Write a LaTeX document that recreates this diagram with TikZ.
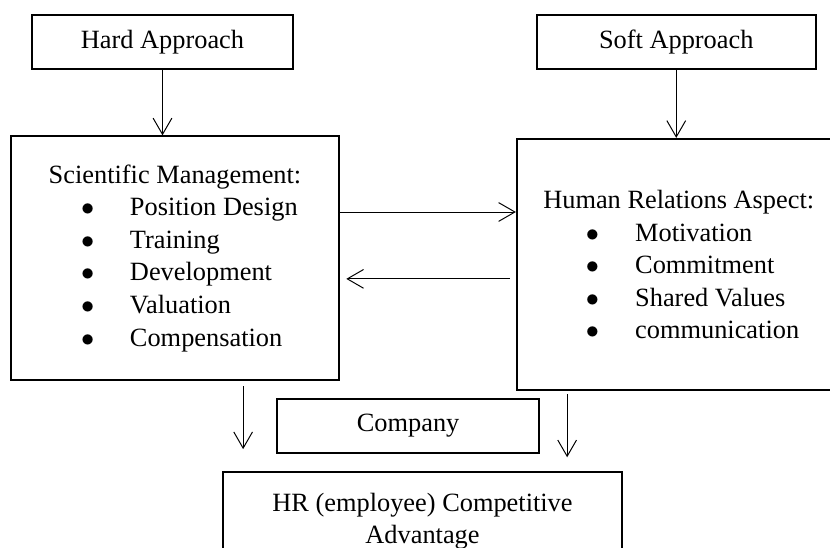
\documentclass[tikz,border=0pt]{standalone}
\usepackage{fontspec}
\setmainfont{Liberation Serif}
\usetikzlibrary{arrows.meta}

\tikzset{
  box/.style={draw, line width=0.9pt, inner sep=0pt, font=\fontsize{12}{14.8}\selectfont},
  flow/.style={-{Straight Barb[length=2.6mm,width=3mm]}, line width=0.45pt},
}
% bullet line: indent, bullet column width, text
\newcommand{\blt}[3]{\hspace*{#1}\makebox[#2][l]{$\bullet$}#3}

\begin{document}
\begin{tikzpicture}
\useasboundingbox (0,0) rectangle (13.28,8.752);
% approaches
\node[box,minimum width=4.18cm,minimum height=0.86cm] (hard) at (2.60,8.08) {Hard Approach};
\node[box,minimum width=4.46cm,minimum height=0.86cm] (soft) at (10.82,8.08) {Soft Approach};
% the two aspect boxes
\node[box,align=left,minimum width=5.25cm,minimum height=3.90cm] (sm) at (2.80,4.62) {Scientific Management:\\
  \blt{5.2mm}{7.8mm}{Position Design}\\
  \blt{5.2mm}{7.8mm}{Training}\\
  \blt{5.2mm}{7.8mm}{Development}\\
  \blt{5.2mm}{7.8mm}{Valuation}\\
  \blt{5.2mm}{7.8mm}{Compensation}};
\node[box,align=left,minimum width=5.18cm,minimum height=4.02cm] (hr) at (10.86,4.52) {Human Relations Aspect:\\
  \blt{6.8mm}{7.9mm}{Motivation}\\
  \blt{6.8mm}{7.9mm}{Commitment}\\
  \blt{6.8mm}{7.9mm}{Shared Values}\\
  \blt{6.8mm}{7.9mm}{communication}};
% company and outcome
\node[box,minimum width=4.19cm,minimum height=0.86cm] (comp) at (6.53,1.94) {Company};
\node[box,align=center,minimum width=6.38cm,minimum height=1.58cm] (adv) at (6.76,0.41) {HR (employee) Competitive\\Advantage};

\draw[flow] (hard) -- (hard |- sm.north);
\draw[flow] (soft) -- (soft |- hr.north);
\draw[flow] ([yshift=7.4mm]sm.east) -- ([yshift=7.4mm]sm.east -| hr.west);
\draw[flow,shorten <=1mm,shorten >=1mm] ([yshift=-3.3mm]sm.east -| hr.west) -- ([yshift=-3.3mm]sm.east);
\draw[flow,shorten <=0.8mm,shorten >=3.5mm] ([xshift=10.9mm]sm.south) -- ([xshift=10.9mm]sm.south |- adv.north);
\draw[flow,shorten <=0.5mm,shorten >=2.2mm] ([xshift=8.2mm]hr.south west) -- ([xshift=8.2mm]hr.south west |- adv.north);
\end{tikzpicture}
\end{document}
